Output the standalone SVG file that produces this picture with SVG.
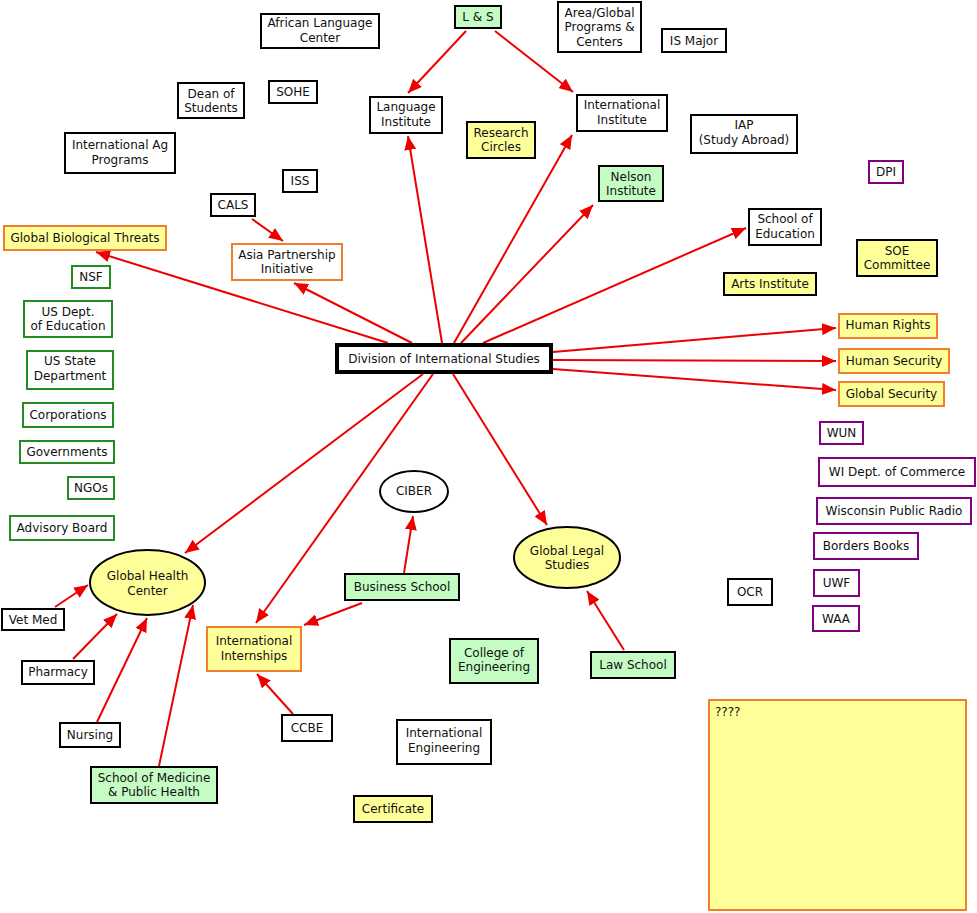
<svg xmlns="http://www.w3.org/2000/svg" width="977" height="913" viewBox="0 0 977 913">
<defs>
<style>
text{font-family:"DejaVu Sans","Verdana",sans-serif;font-size:12px;fill:#111;text-anchor:middle}
rect,ellipse{stroke-width:2}
.b{fill:#fff;stroke:#000}
.g{fill:#c4fcc4;stroke:#000}
.y{fill:#ffff99;stroke:#000}
.o{fill:#ffff99;stroke:#f07f2d}
.ow{fill:#fff;stroke:#f07f2d}
.gr{fill:#fff;stroke:#228b22}
.p{fill:#fff;stroke:#800080}
.e{fill:#ffff99;stroke:#000}
.hub{fill:#fff;stroke:#000;stroke-width:4}
.c line{stroke:#ee0000;stroke-width:2;marker-end:url(#ah)}
</style>
<marker id="ah" viewBox="0 0 14 12" refX="14" refY="6" markerWidth="14" markerHeight="12" markerUnits="userSpaceOnUse" orient="auto">
<path d="M0,0 L14,6 L0,12 z" fill="#ee0000"/>
</marker>
</defs>
<rect width="977" height="913" fill="#fff" style="stroke:none"/>
<g class="c" id="connectors">
<line x1="388" y1="343" x2="96" y2="252"/>
<line x1="412" y1="343" x2="294" y2="283"/>
<line x1="442" y1="343" x2="408" y2="136"/>
<line x1="454" y1="343" x2="572" y2="135"/>
<line x1="461" y1="343" x2="593" y2="205"/>
<line x1="483" y1="343" x2="746" y2="228"/>
<line x1="553" y1="352" x2="836" y2="328"/>
<line x1="553" y1="360" x2="836" y2="361"/>
<line x1="553" y1="369" x2="836" y2="390"/>
<line x1="423" y1="374" x2="185" y2="553"/>
<line x1="433" y1="374" x2="256" y2="623"/>
<line x1="453" y1="374" x2="547" y2="525"/>
<line x1="466" y1="31" x2="408" y2="93"/>
<line x1="495" y1="31" x2="573" y2="92"/>
<line x1="252" y1="219" x2="283" y2="241"/>
<line x1="404" y1="573" x2="413" y2="516"/>
<line x1="362" y1="603" x2="304" y2="625"/>
<line x1="624" y1="650" x2="587" y2="591"/>
<line x1="293" y1="714" x2="257" y2="674"/>
<line x1="55" y1="607" x2="88" y2="585"/>
<line x1="73" y1="659" x2="117" y2="614"/>
<line x1="97" y1="722" x2="147" y2="618"/>
<line x1="159" y1="766" x2="193" y2="605"/>
</g>
<g id="n-african"><rect class="b" x="261" y="14" width="118" height="34"/><text x="320" y="27">African Language</text><text x="320" y="42">Center</text></g>
<g id="n-ls"><rect class="g" x="455" y="6" width="46" height="22"/><text x="478" y="21">L &amp; S</text></g>
<g id="n-area"><rect class="b" x="558" y="2" width="83" height="50"/><text x="599.5" y="17">Area/Global</text><text x="599.5" y="31">Programs &amp;</text><text x="599.5" y="46">Centers</text></g>
<g id="n-ismajor"><rect class="b" x="662" y="29" width="64" height="23"/><text x="694" y="45">IS Major</text></g>
<g id="n-dean"><rect class="b" x="178" y="83" width="66" height="35"/><text x="211" y="98">Dean of</text><text x="211" y="112">Students</text></g>
<g id="n-sohe"><rect class="b" x="269" y="81" width="48" height="22"/><text x="293" y="96">SOHE</text></g>
<g id="n-intag"><rect class="b" x="65" y="133" width="110" height="40"/><text x="120" y="149">International Ag</text><text x="120" y="164">Programs</text></g>
<g id="n-iss"><rect class="b" x="283" y="170" width="34" height="22"/><text x="300" y="185">ISS</text></g>
<g id="n-cals"><rect class="b" x="211" y="194" width="44" height="22"/><text x="233" y="209">CALS</text></g>
<g id="n-gbt"><rect class="o" x="4" y="226" width="162" height="24"/><text x="85" y="242">Global Biological Threats</text></g>
<g id="n-asia"><rect class="ow" x="232" y="244" width="110" height="36"/><text x="287" y="259">Asia Partnership</text><text x="287" y="273">Initiative</text></g>
<g id="n-nsf"><rect class="gr" x="72" y="266" width="38" height="22"/><text x="91" y="281">NSF</text></g>
<g id="n-usdoe"><rect class="gr" x="24" y="301" width="88" height="36"/><text x="68" y="316">US Dept.</text><text x="68" y="330">of Education</text></g>
<g id="n-usstate"><rect class="gr" x="27" y="351" width="86" height="38"/><text x="70" y="365">US State</text><text x="70" y="380">Department</text></g>
<g id="n-corp"><rect class="gr" x="23" y="403" width="90" height="24"/><text x="68" y="419">Corporations</text></g>
<g id="n-gov"><rect class="gr" x="20" y="441" width="94" height="22"/><text x="67" y="456">Governments</text></g>
<g id="n-ngos"><rect class="gr" x="68" y="477" width="46" height="22"/><text x="91" y="492">NGOs</text></g>
<g id="n-advisory"><rect class="gr" x="10" y="516" width="104" height="24"/><text x="62" y="532">Advisory Board</text></g>
<g id="n-langinst"><rect class="b" x="370" y="97" width="72" height="36"/><text x="406" y="111">Language</text><text x="406" y="126">Institute</text></g>
<g id="n-intinst"><rect class="b" x="577" y="95" width="90" height="36"/><text x="622" y="109">International</text><text x="622" y="124">Institute</text></g>
<g id="n-research"><rect class="y" x="467" y="122" width="68" height="36"/><text x="501" y="137">Research</text><text x="501" y="151">Circles</text></g>
<g id="n-nelson"><rect class="g" x="599" y="166" width="64" height="35"/><text x="631" y="181">Nelson</text><text x="631" y="195">Institute</text></g>
<g id="n-iap"><rect class="b" x="691" y="115" width="106" height="38"/><text x="744" y="129">IAP</text><text x="744" y="144">(Study Abroad)</text></g>
<g id="n-dpi"><rect class="p" x="869" y="161" width="34" height="22"/><text x="886" y="176">DPI</text></g>
<g id="n-soe"><rect class="b" x="749" y="209" width="72" height="36"/><text x="785" y="223">School of</text><text x="785" y="238">Education</text></g>
<g id="n-soecomm"><rect class="y" x="857" y="240" width="80" height="36"/><text x="897" y="255">SOE</text><text x="897" y="269">Committee</text></g>
<g id="n-arts"><rect class="y" x="724" y="273" width="92" height="22"/><text x="770" y="288">Arts Institute</text></g>
<g id="n-humrights"><rect class="o" x="839" y="314" width="98" height="24"/><text x="888" y="329">Human Rights</text></g>
<g id="n-humsec"><rect class="o" x="839" y="349" width="110" height="24"/><text x="894" y="365">Human Security</text></g>
<g id="n-globsec"><rect class="o" x="839" y="382" width="105" height="24"/><text x="891.5" y="398">Global Security</text></g>
<g id="n-dis"><rect class="hub" x="337" y="345" width="214" height="27"/><text x="444" y="363">Division of International Studies</text></g>
<g id="n-wun"><rect class="p" x="820" y="422" width="43" height="22"/><text x="841.5" y="437">WUN</text></g>
<g id="n-widoc"><rect class="p" x="819" y="458" width="156" height="28"/><text x="897" y="476">WI Dept. of Commerce</text></g>
<g id="n-wpr"><rect class="p" x="817" y="498" width="154" height="26"/><text x="894" y="515">Wisconsin Public Radio</text></g>
<g id="n-borders"><rect class="p" x="814" y="533" width="104" height="26"/><text x="866" y="550">Borders Books</text></g>
<g id="n-uwf"><rect class="p" x="814" y="570" width="45" height="26"/><text x="836.5" y="587">UWF</text></g>
<g id="n-waa"><rect class="p" x="813" y="606" width="46" height="25"/><text x="836" y="623">WAA</text></g>
<g id="n-ocr"><rect class="b" x="728" y="579" width="44" height="26"/><text x="750" y="596">OCR</text></g>
<g id="n-qqqq"><rect class="o" x="709" y="700" width="257" height="210"/><text x="715" y="716" style="text-anchor:start">????</text></g>
<g id="n-ciber"><ellipse class="b" cx="414" cy="491.5" rx="34" ry="20.5"/><text x="414" y="495">CIBER</text></g>
<g id="n-gls"><ellipse class="e" cx="567" cy="557.5" rx="53" ry="30.5"/><text x="567" y="555">Global Legal</text><text x="567" y="569">Studies</text></g>
<g id="n-ghc"><ellipse class="e" cx="147.5" cy="582.5" rx="57.5" ry="32.5"/><text x="147.5" y="580">Global Health</text><text x="147.5" y="595">Center</text></g>
<g id="n-business"><rect class="g" x="345" y="574" width="114" height="26"/><text x="402" y="591">Business School</text></g>
<g id="n-law"><rect class="g" x="591" y="652" width="84" height="26"/><text x="633" y="669">Law School</text></g>
<g id="n-coe"><rect class="g" x="450" y="639" width="88" height="44"/><text x="494" y="657">College of</text><text x="494" y="671">Engineering</text></g>
<g id="n-inteng"><rect class="b" x="397" y="720" width="94" height="44"/><text x="444" y="737">International</text><text x="444" y="752">Engineering</text></g>
<g id="n-cert"><rect class="y" x="354" y="796" width="78" height="26"/><text x="393" y="813">Certificate</text></g>
<g id="n-vetmed"><rect class="b" x="2" y="609" width="62" height="21"/><text x="33" y="624">Vet Med</text></g>
<g id="n-pharmacy"><rect class="b" x="22" y="661" width="72" height="23"/><text x="58" y="676">Pharmacy</text></g>
<g id="n-nursing"><rect class="b" x="60" y="723" width="60" height="24"/><text x="90" y="739">Nursing</text></g>
<g id="n-smph"><rect class="g" x="91" y="767" width="126" height="36"/><text x="154" y="782">School of Medicine</text><text x="154" y="796">&amp; Public Health</text></g>
<g id="n-intern"><rect class="o" x="207" y="627" width="94" height="44"/><text x="254" y="645">International</text><text x="254" y="660">Internships</text></g>
<g id="n-ccbe"><rect class="b" x="282" y="715" width="50" height="26"/><text x="307" y="732">CCBE</text></g>
</svg>
